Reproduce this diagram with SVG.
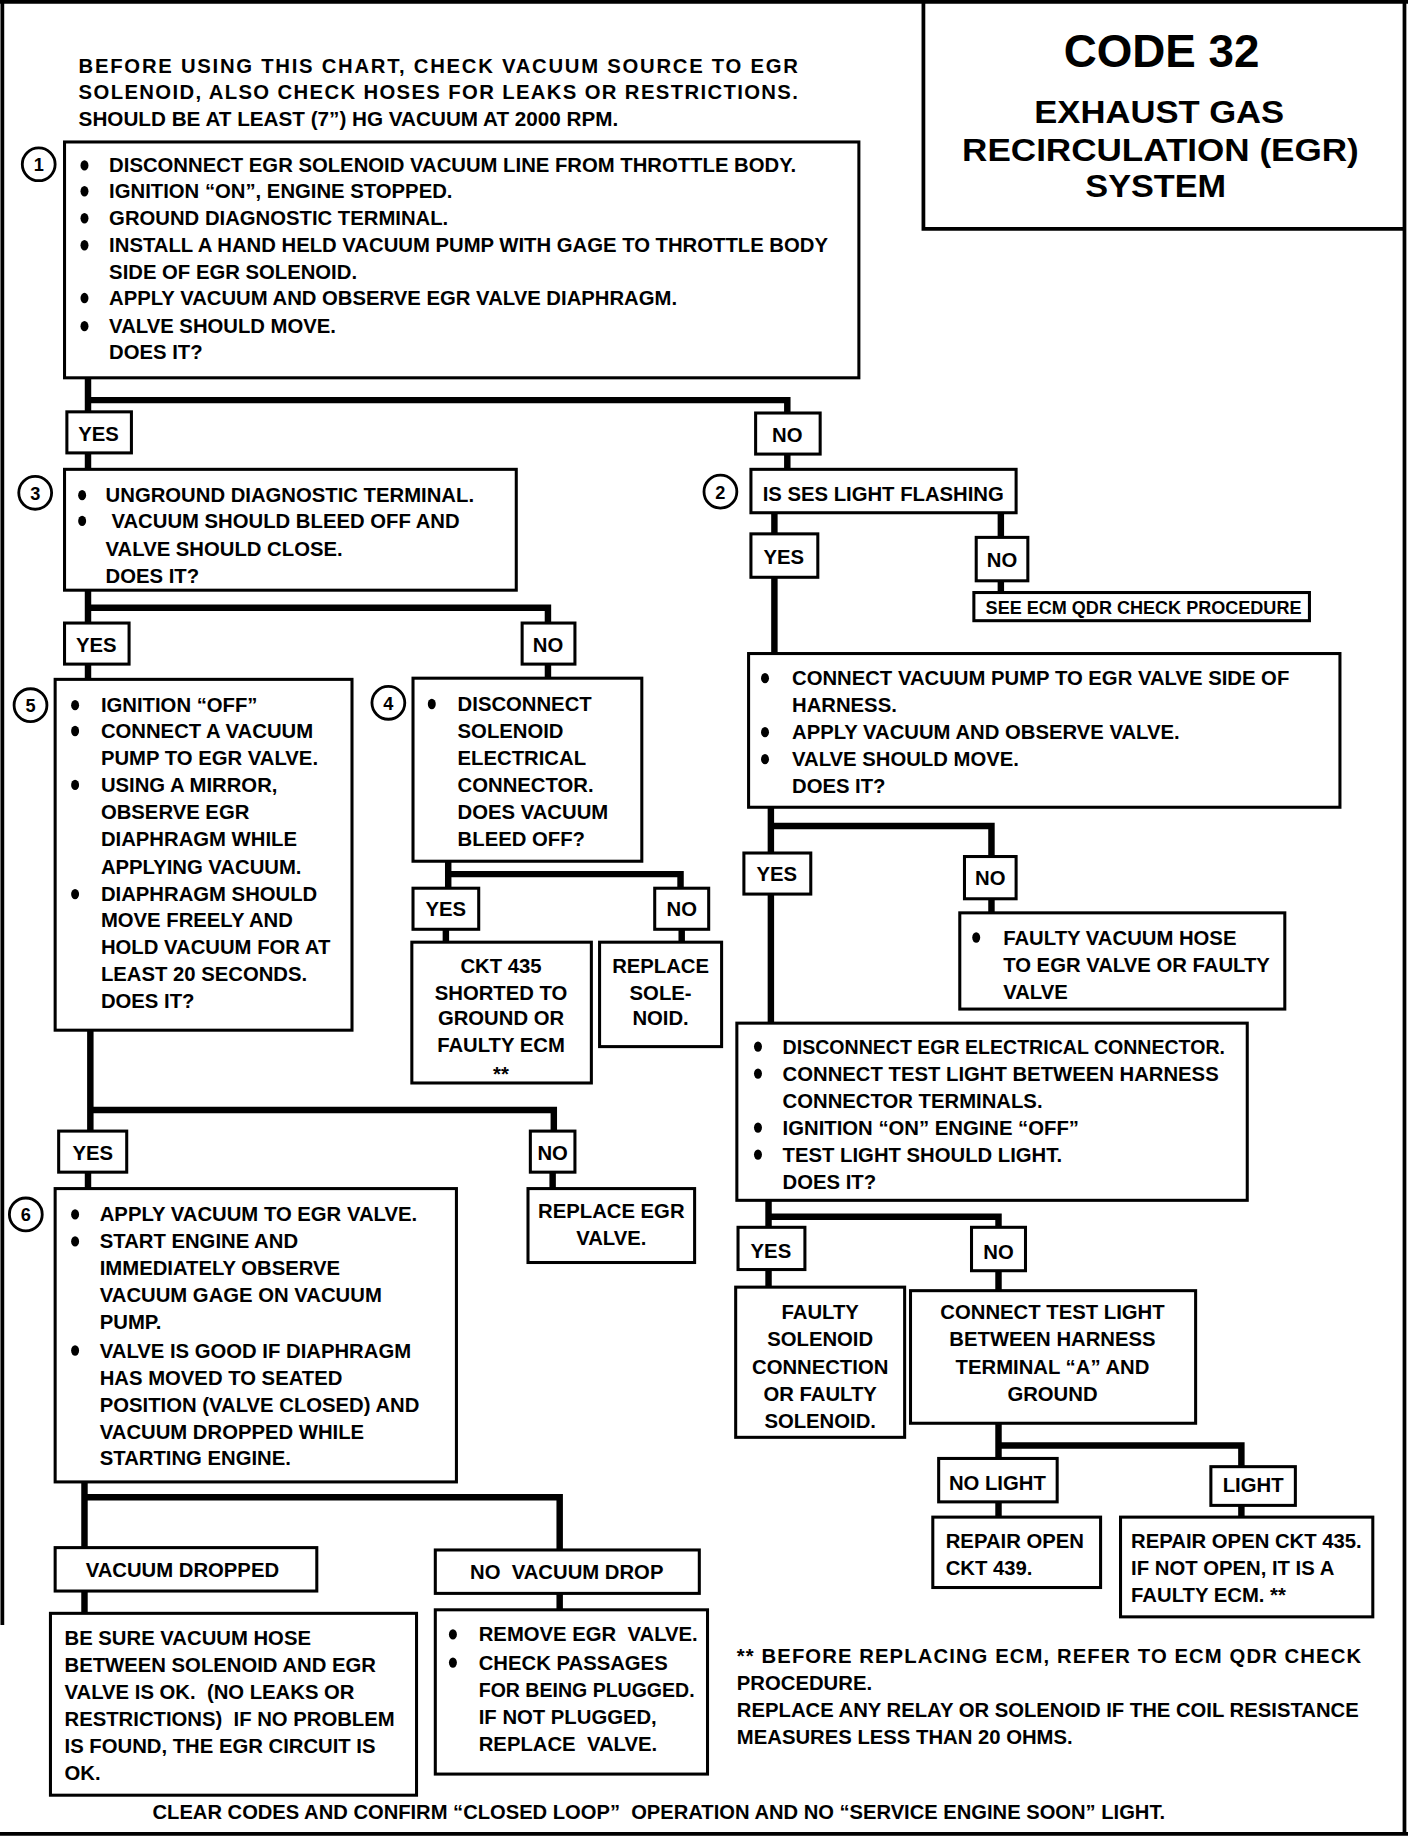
<svg xmlns="http://www.w3.org/2000/svg" xmlns:xlink="http://www.w3.org/1999/xlink" width="1408" height="1840" viewBox="0 0 1408 1840">
<style>
.bx{fill:#fff;stroke:#000;stroke-width:2.6}
.fr{fill:none;stroke:#000;stroke-width:3.2}
.cn{fill:none;stroke:#000;stroke-width:5.5;stroke-linecap:square;stroke-linejoin:miter}
.ci{fill:#fff;stroke:#000;stroke-width:2.4}
text{font-family:"Liberation Sans",Arial,Helvetica,sans-serif;font-weight:bold;font-size:17.3px;fill:#000}
.m{text-anchor:middle}
.t{font-size:27px}
.n{font-size:15.5px}
.s{font-size:15.4px}
</style>
<defs>
<ellipse id="bul" cx="0" cy="0" rx="3.4" ry="4.4" fill="#000"/>
</defs>
<rect width="1408" height="1840" fill="#fff"/>
<g transform="scale(1.173333)">
<g id="frame">
<path class="fr" d="M0,1.5 H1200 M2,0 V1385 M1197,0 V1563 M0,1563 H1200"/>
</g>
<g id="title">
<path class="fr" d="M787,0 V195 H1197"/>
<text class="m" x="990" y="57" style="font-size:39px">CODE 32</text>
<text class="m t" x="988" y="105" textLength="213" lengthAdjust="spacingAndGlyphs">EXHAUST GAS</text>
<text class="m t" x="989" y="137" textLength="338" lengthAdjust="spacingAndGlyphs">RECIRCULATION (EGR)</text>
<text class="m t" x="985" y="168" textLength="120" lengthAdjust="spacingAndGlyphs">SYSTEM</text>
</g>
<g id="header">
<text x="67" y="62" textLength="613" lengthAdjust="spacing">BEFORE USING THIS CHART, CHECK VACUUM SOURCE TO EGR</text>
<text x="67" y="84" textLength="613" lengthAdjust="spacing">SOLENOID, ALSO CHECK HOSES FOR LEAKS OR RESTRICTIONS.</text>
<text x="67" y="107" textLength="460" lengthAdjust="spacingAndGlyphs">SHOULD BE AT LEAST (7”) HG VACUUM AT 2000 RPM.</text>
</g>
<g id="connectors">
<path class="cn" d="M75,322 V351 M75,341 H671 V352"/>
<path class="cn" d="M75,386 V400"/>
<path class="cn" d="M671,387 V400"/>
<path class="cn" d="M75,503 V531 M75,518 H467 V531"/>
<path class="cn" d="M75,566 V579"/>
<path class="cn" d="M467,566 V578"/>
<path class="cn" d="M382,734 V757 M382,745 H580 V757"/>
<path class="cn" d="M380,792 V802"/>
<path class="cn" d="M581,792 V802"/>
<path class="cn" d="M77,878 V964 M77,946 H472 V964"/>
<path class="cn" d="M75,999 V1013"/>
<path class="cn" d="M471,999 V1013"/>
<path class="cn" d="M72,1263 V1319 M72,1276 H477 V1321"/>
<path class="cn" d="M72,1356 V1375"/>
<path class="cn" d="M477,1358 V1372"/>
<path class="cn" d="M660,437 V455"/>
<path class="cn" d="M853,437 V458"/>
<path class="cn" d="M853,495 V505"/>
<path class="cn" d="M660,492 V557"/>
<path class="cn" d="M657,688 V727 M657,704 H845 V730"/>
<path class="cn" d="M845,766 V778"/>
<path class="cn" d="M657,762 V872"/>
<path class="cn" d="M655,1023 V1046 M655,1037 H851 V1046"/>
<path class="cn" d="M655,1082 V1097"/>
<path class="cn" d="M851,1083 V1100"/>
<path class="cn" d="M851,1213 V1243 M851,1232 H1058 V1250"/>
<path class="cn" d="M851,1280 V1293"/>
<path class="cn" d="M1058,1283 V1293"/>
</g>
<g id="step1">
<rect class="bx" x="55" y="121" width="677" height="201"/>
<circle class="ci" cx="33" cy="140" r="14"/><text class="m n" x="33" y="146">1</text>
<use xlink:href="#bul" x="72" y="141"/><text x="93" y="147">DISCONNECT EGR SOLENOID VACUUM LINE FROM THROTTLE BODY.</text>
<use xlink:href="#bul" x="72" y="163"/><text x="93" y="169">IGNITION “ON”, ENGINE STOPPED.</text>
<use xlink:href="#bul" x="72" y="186"/><text x="93" y="192">GROUND DIAGNOSTIC TERMINAL.</text>
<use xlink:href="#bul" x="72" y="209"/><text x="93" y="215">INSTALL A HAND HELD VACUUM PUMP WITH GAGE TO THROTTLE BODY</text>
<text x="93" y="238">SIDE OF EGR SOLENOID.</text>
<use xlink:href="#bul" x="72" y="254"/><text x="93" y="260">APPLY VACUUM AND OBSERVE EGR VALVE DIAPHRAGM.</text>
<use xlink:href="#bul" x="72" y="278"/><text x="93" y="284">VALVE SHOULD MOVE.</text>
<text x="93" y="306">DOES IT?</text>
</g>
<g id="yes1"><rect class="bx" x="57" y="351" width="55" height="35"/><text class="m" x="84" y="376">YES</text></g>
<g id="no1"><rect class="bx" x="644" y="352" width="55" height="35"/><text class="m" x="671" y="377">NO</text></g>
<g id="step3">
<rect class="bx" x="55" y="400" width="385" height="103"/>
<circle class="ci" cx="30" cy="420" r="14"/><text class="m n" x="30" y="426">3</text>
<use xlink:href="#bul" x="70" y="422"/><text x="90" y="428">UNGROUND DIAGNOSTIC TERMINAL.</text>
<use xlink:href="#bul" x="70" y="444"/><text x="95" y="450">VACUUM SHOULD BLEED OFF AND</text>
<text x="90" y="474">VALVE SHOULD CLOSE.</text>
<text x="90" y="497">DOES IT?</text>
</g>
<g id="yes3"><rect class="bx" x="55" y="531" width="55" height="35"/><text class="m" x="82" y="556">YES</text></g>
<g id="no3"><rect class="bx" x="445" y="531" width="45" height="35"/><text class="m" x="467" y="556">NO</text></g>
<g id="step5">
<rect class="bx" x="47" y="579" width="253" height="299"/>
<circle class="ci" cx="26" cy="601" r="14"/><text class="m n" x="26" y="607">5</text>
<use xlink:href="#bul" x="64" y="601"/><text x="86" y="607">IGNITION “OFF”</text>
<use xlink:href="#bul" x="64" y="623"/><text x="86" y="629">CONNECT A VACUUM</text>
<text x="86" y="652">PUMP TO EGR VALVE.</text>
<use xlink:href="#bul" x="64" y="669"/><text x="86" y="675">USING A MIRROR,</text>
<text x="86" y="698">OBSERVE EGR</text>
<text x="86" y="721">DIAPHRAGM WHILE</text>
<text x="86" y="745">APPLYING VACUUM.</text>
<use xlink:href="#bul" x="64" y="762"/><text x="86" y="768">DIAPHRAGM SHOULD</text>
<text x="86" y="790">MOVE FREELY AND</text>
<text x="86" y="813">HOLD VACUUM FOR AT</text>
<text x="86" y="836">LEAST 20 SECONDS.</text>
<text x="86" y="859">DOES IT?</text>
</g>
<g id="step4">
<rect class="bx" x="352" y="578" width="195" height="156"/>
<circle class="ci" cx="331" cy="599" r="14"/><text class="m n" x="331" y="605">4</text>
<use xlink:href="#bul" x="368" y="600"/><text x="390" y="606">DISCONNECT</text>
<text x="390" y="629">SOLENOID</text>
<text x="390" y="652">ELECTRICAL</text>
<text x="390" y="675">CONNECTOR.</text>
<text x="390" y="698">DOES VACUUM</text>
<text x="390" y="721">BLEED OFF?</text>
</g>
<g id="yes4"><rect class="bx" x="352" y="757" width="56" height="35"/><text class="m" x="380" y="781">YES</text></g>
<g id="no4"><rect class="bx" x="558" y="757" width="46" height="35"/><text class="m" x="581" y="781">NO</text></g>
<g id="ckt435">
<rect class="bx" x="351" y="803" width="153" height="120"/>
<text class="m" x="427" y="829">CKT 435</text>
<text class="m" x="427" y="852">SHORTED TO</text>
<text class="m" x="427" y="874">GROUND OR</text>
<text class="m" x="427" y="897">FAULTY ECM</text>
<text class="m" x="427" y="921">**</text>
</g>
<g id="replaceSolenoid">
<rect class="bx" x="511" y="803" width="104" height="89"/>
<text class="m" x="563" y="829">REPLACE</text>
<text class="m" x="563" y="852">SOLE-</text>
<text class="m" x="563" y="874">NOID.</text>
</g>
<g id="yes5"><rect class="bx" x="50" y="964" width="58" height="35"/><text class="m" x="79" y="989">YES</text></g>
<g id="no5"><rect class="bx" x="452" y="964" width="38" height="35"/><text class="m" x="471" y="989">NO</text></g>
<g id="replaceEgr">
<rect class="bx" x="450" y="1013" width="142" height="63"/>
<text class="m" x="521" y="1038">REPLACE EGR</text>
<text class="m" x="521" y="1061">VALVE.</text>
</g>
<g id="step6">
<rect class="bx" x="47" y="1013" width="342" height="250"/>
<circle class="ci" cx="22" cy="1035" r="14"/><text class="m n" x="22" y="1041">6</text>
<use xlink:href="#bul" x="64" y="1035"/><text x="85" y="1041">APPLY VACUUM TO EGR VALVE.</text>
<use xlink:href="#bul" x="64" y="1058"/><text x="85" y="1064">START ENGINE AND</text>
<text x="85" y="1087">IMMEDIATELY OBSERVE</text>
<text x="85" y="1110">VACUUM GAGE ON VACUUM</text>
<text x="85" y="1133">PUMP.</text>
<use xlink:href="#bul" x="64" y="1151"/><text x="85" y="1157">VALVE IS GOOD IF DIAPHRAGM</text>
<text x="85" y="1180">HAS MOVED TO SEATED</text>
<text x="85" y="1203">POSITION (VALVE CLOSED) AND</text>
<text x="85" y="1226">VACUUM DROPPED WHILE</text>
<text x="85" y="1249">STARTING ENGINE.</text>
</g>
<g id="vacDropped"><rect class="bx" x="47" y="1319" width="223" height="37"/><text x="73" y="1344">VACUUM DROPPED</text></g>
<g id="noVacDrop"><rect class="bx" x="371" y="1321" width="225" height="37"/><text class="m" x="483" y="1346" xml:space="preserve">NO  VACUUM DROP</text></g>
<g id="beSure">
<rect class="bx" x="43" y="1375" width="312" height="155"/>
<text x="55" y="1402">BE SURE VACUUM HOSE</text>
<text x="55" y="1425">BETWEEN SOLENOID AND EGR</text>
<text x="55" y="1448" xml:space="preserve">VALVE IS OK.  (NO LEAKS OR</text>
<text x="55" y="1471" xml:space="preserve">RESTRICTIONS)  IF NO PROBLEM</text>
<text x="55" y="1494">IS FOUND, THE EGR CIRCUIT IS</text>
<text x="55" y="1517">OK.</text>
</g>
<g id="removeValve">
<rect class="bx" x="371" y="1372" width="232" height="140"/>
<use xlink:href="#bul" x="386" y="1393"/><text x="408" y="1399" xml:space="preserve">REMOVE EGR  VALVE.</text>
<use xlink:href="#bul" x="386" y="1417"/><text x="408" y="1423">CHECK PASSAGES</text>
<text x="408" y="1446" textLength="184" lengthAdjust="spacingAndGlyphs">FOR BEING PLUGGED.</text>
<text x="408" y="1469">IF NOT PLUGGED,</text>
<text x="408" y="1492" xml:space="preserve">REPLACE  VALVE.</text>
</g>
<g id="footnote">
<text x="628" y="1417" textLength="532" lengthAdjust="spacing">** BEFORE REPLACING ECM, REFER TO ECM QDR CHECK</text>
<text x="628" y="1440">PROCEDURE.</text>
<text x="628" y="1463" textLength="530" lengthAdjust="spacingAndGlyphs">REPLACE ANY RELAY OR SOLENOID IF THE COIL RESISTANCE</text>
<text x="628" y="1486">MEASURES LESS THAN 20 OHMS.</text>
</g>
<g id="clearCodes">
<text x="130" y="1550" textLength="863" lengthAdjust="spacingAndGlyphs" xml:space="preserve">CLEAR CODES AND CONFIRM “CLOSED LOOP”  OPERATION AND NO “SERVICE ENGINE SOON” LIGHT.</text>
</g>
<g id="step2">
<rect class="bx" x="640" y="400" width="226" height="37"/>
<circle class="ci" cx="614" cy="419" r="14"/><text class="m n" x="614" y="425">2</text>
<text x="650" y="427">IS SES LIGHT FLASHING</text>
</g>
<g id="yes2"><rect class="bx" x="640" y="455" width="57" height="37"/><text class="m" x="668" y="481">YES</text></g>
<g id="no2"><rect class="bx" x="832" y="458" width="44" height="37"/><text class="m" x="854" y="483">NO</text></g>
<g id="seeEcm"><rect class="bx" x="830" y="505" width="286" height="24"/><text class="s" x="840" y="523">SEE ECM QDR CHECK PROCEDURE</text></g>
<g id="stepR1">
<rect class="bx" x="638" y="557" width="504" height="131"/>
<use xlink:href="#bul" x="652" y="578"/><text x="675" y="584">CONNECT VACUUM PUMP TO EGR VALVE SIDE OF</text>
<text x="675" y="607">HARNESS.</text>
<use xlink:href="#bul" x="652" y="624"/><text x="675" y="630">APPLY VACUUM AND OBSERVE VALVE.</text>
<use xlink:href="#bul" x="652" y="647"/><text x="675" y="653">VALVE SHOULD MOVE.</text>
<text x="675" y="676">DOES IT?</text>
</g>
<g id="yesR1"><rect class="bx" x="634" y="727" width="57" height="35"/><text class="m" x="662" y="751">YES</text></g>
<g id="noR1"><rect class="bx" x="822" y="730" width="44" height="36"/><text class="m" x="844" y="754">NO</text></g>
<g id="faultyHose">
<rect class="bx" x="818" y="778" width="277" height="82"/>
<use xlink:href="#bul" x="832" y="799"/><text x="855" y="805">FAULTY VACUUM HOSE</text>
<text x="855" y="828">TO EGR VALVE OR FAULTY</text>
<text x="855" y="851">VALVE</text>
</g>
<g id="stepR2">
<rect class="bx" x="628" y="872" width="435" height="151"/>
<use xlink:href="#bul" x="646" y="892"/><text x="667" y="898" textLength="377" lengthAdjust="spacingAndGlyphs">DISCONNECT EGR ELECTRICAL CONNECTOR.</text>
<use xlink:href="#bul" x="646" y="915"/><text x="667" y="921">CONNECT TEST LIGHT BETWEEN HARNESS</text>
<text x="667" y="944">CONNECTOR TERMINALS.</text>
<use xlink:href="#bul" x="646" y="961"/><text x="667" y="967">IGNITION “ON” ENGINE “OFF”</text>
<use xlink:href="#bul" x="646" y="984"/><text x="667" y="990">TEST LIGHT SHOULD LIGHT.</text>
<text x="667" y="1013">DOES IT?</text>
</g>
<g id="yesR2"><rect class="bx" x="629" y="1046" width="57" height="36"/><text class="m" x="657" y="1072">YES</text></g>
<g id="noR2"><rect class="bx" x="828" y="1046" width="46" height="37"/><text class="m" x="851" y="1073">NO</text></g>
<g id="faultySolenoid">
<rect class="bx" x="627" y="1097" width="144" height="128"/>
<text class="m" x="699" y="1124">FAULTY</text>
<text class="m" x="699" y="1147">SOLENOID</text>
<text class="m" x="699" y="1171">CONNECTION</text>
<text class="m" x="699" y="1194">OR FAULTY</text>
<text class="m" x="699" y="1217">SOLENOID.</text>
</g>
<g id="connectTestLight">
<rect class="bx" x="776" y="1100" width="243" height="113"/>
<text class="m" x="897" y="1124">CONNECT TEST LIGHT</text>
<text class="m" x="897" y="1147">BETWEEN HARNESS</text>
<text class="m" x="897" y="1171">TERMINAL “A” AND</text>
<text class="m" x="897" y="1194">GROUND</text>
</g>
<g id="noLight"><rect class="bx" x="800" y="1243" width="101" height="37"/><text class="m" x="850" y="1270">NO LIGHT</text></g>
<g id="light"><rect class="bx" x="1032" y="1250" width="72" height="33"/><text class="m" x="1068" y="1272">LIGHT</text></g>
<g id="repair439">
<rect class="bx" x="795" y="1293" width="143" height="60"/>
<text x="806" y="1319">REPAIR OPEN</text>
<text x="806" y="1342">CKT 439.</text>
</g>
<g id="repair435">
<rect class="bx" x="955" y="1293" width="215" height="85"/>
<text x="964" y="1319">REPAIR OPEN CKT 435.</text>
<text x="964" y="1342">IF NOT OPEN, IT IS A</text>
<text x="964" y="1365">FAULTY ECM. **</text>
</g>
</g>
</svg>
